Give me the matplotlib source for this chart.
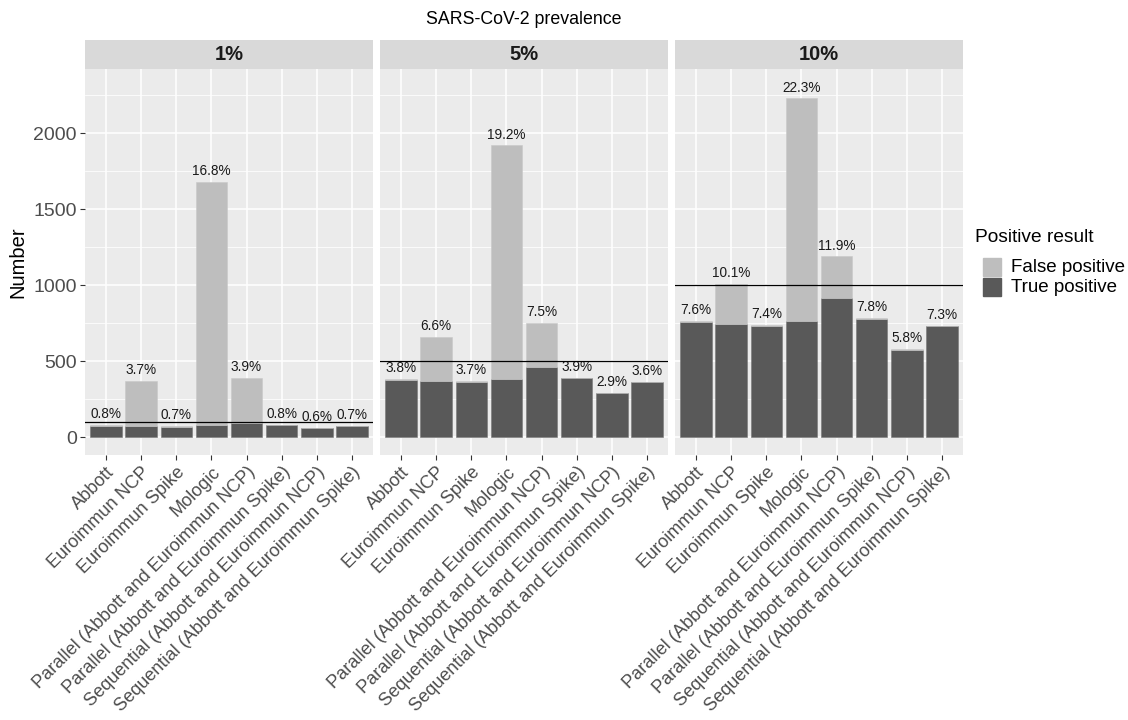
import numpy as np
import matplotlib

matplotlib.use("Agg")
import matplotlib.pyplot as plt

plt.rcParams["font.family"] = ["Liberation Sans", "DejaVu Sans"]

tests = [
    "Abbott",
    "Euroimmun NCP",
    "Euroimmun Spike",
    "Mologic",
    "Parallel (Abbott and Euroimmun NCP)",
    "Parallel (Abbott and Euroimmun Spike)",
    "Sequential (Abbott and Euroimmun NCP)",
    "Sequential (Abbott and Euroimmun Spike)",
]
prevalences = ["1%", "5%", "10%"]
n_infected = [100, 500, 1000]

true_pos_1 = [76, 75, 68, 77, 92, 78, 57, 71]
false_pos_1 = [4, 297, 4, 1603, 298, 4, 2, 1]
labels_1 = ["0.8%", "3.7%", "0.7%", "16.8%", "3.9%", "0.8%", "0.6%", "0.7%"]

true_pos_5 = [378, 370, 365, 380, 459, 386, 288, 362]
false_pos_5 = [5, 288, 5, 1540, 291, 4, 2, 1]
labels_5 = ["3.8%", "6.6%", "3.7%", "19.2%", "7.5%", "3.9%", "2.9%", "3.6%"]

true_pos_10 = [760, 743, 734, 767, 918, 780, 576, 729]
false_pos_10 = [4, 267, 4, 1463, 272, 4, 2, 1]
labels_10 = ["7.6%", "10.1%", "7.4%", "22.3%", "11.9%", "7.8%", "5.8%", "7.3%"]

true_pos = [true_pos_1, true_pos_5, true_pos_10]
false_pos = [false_pos_1, false_pos_5, false_pos_10]
bar_labels = [labels_1, labels_5, labels_10]

TP_COLOR = "#595959"
FP_COLOR = "#BEBEBE"
PANEL_BG = "#EBEBEB"
STRIP_BG = "#D9D9D9"

W, H = 1128, 720
fig = plt.figure(figsize=(W / 100, H / 100), dpi=100)

lefts = [85, 380, 675]
pw = 288
top, bottom = 69, 455
strip_top = 40

x = np.arange(len(tests))
for i, left in enumerate(lefts):
    ax = fig.add_axes([left / W, 1 - bottom / H, pw / W, (bottom - top) / H])
    ax.set_facecolor(PANEL_BG)
    for spine in ax.spines.values():
        spine.set_visible(False)
    ax.set_xlim(-0.6, len(tests) - 0.4)
    ax.set_ylim(-118, 2423)
    ax.set_yticks([0, 500, 1000, 1500, 2000])
    ax.set_yticks([250, 750, 1250, 1750, 2250], minor=True)
    ax.set_xticks(x)
    ax.grid(which="major", color="white", lw=1.1)
    ax.grid(which="minor", axis="y", color="white", lw=0.55)
    ax.set_axisbelow(True)
    ax.tick_params(which="minor", length=0)
    ax.tick_params(which="major", length=3.5, width=0.8, color="#333333", pad=2.5)

    tp = np.array(true_pos[i])
    fp = np.array(false_pos[i])
    ax.bar(x, tp, width=0.9, color=TP_COLOR, edgecolor="#777777", lw=0.4, zorder=2)
    ax.bar(x, fp, bottom=tp, width=0.9, color=FP_COLOR, edgecolor="#c8c8c8", lw=0.4, zorder=2)
    for xi, total, lab in zip(x, tp + fp, bar_labels[i]):
        ax.text(xi, total + 25, lab, ha="center", va="bottom", fontsize=9.8, color="#1a1a1a", zorder=3)
    ax.axhline(n_infected[i], color="black", lw=0.9, zorder=3)

    ax.set_xticklabels(tests, rotation=45, ha="right", rotation_mode="anchor",
                       fontsize=13.1, color="#4d4d4d")
    if i == 0:
        ax.set_yticklabels(["0", "500", "1000", "1500", "2000"], fontsize=14, color="#4d4d4d")
        ax.set_ylabel("Number", fontsize=14.5, labelpad=4)
    else:
        ax.tick_params(axis="y", which="both", length=0, labelleft=False)

    sax = fig.add_axes([left / W, 1 - top / H, pw / W, (top - strip_top) / H])
    sax.set_facecolor(STRIP_BG)
    sax.set_xticks([])
    sax.set_yticks([])
    for spine in sax.spines.values():
        spine.set_visible(False)
    sax.text(0.5, 0.5, prevalences[i], ha="center", va="center", fontsize=14.5,
             fontweight="bold", color="#1a1a1a", transform=sax.transAxes)

fig.text((lefts[0] + lefts[-1] + pw) / 2 / W, 1 - 19 / H, "SARS-CoV-2 prevalence",
         ha="center", va="center", fontsize=12.8)

# legend
fig.text(975 / W, 1 - 238 / H, "Positive result", ha="left", va="center", fontsize=13.8)
for k, (lab, col) in enumerate([("False positive", FP_COLOR), ("True positive", TP_COLOR)]):
    yc = 267 + k * 20
    fig.patches.append(plt.Rectangle((983 / W, 1 - (yc + 9) / H), 18 / W, 18 / H,
                                     color=col, transform=fig.transFigure, figure=fig))
    fig.text(1011 / W, 1 - yc / H, lab, ha="left", va="center", fontsize=13.5)

fig.savefig("out.png", dpi=100, facecolor="white")
